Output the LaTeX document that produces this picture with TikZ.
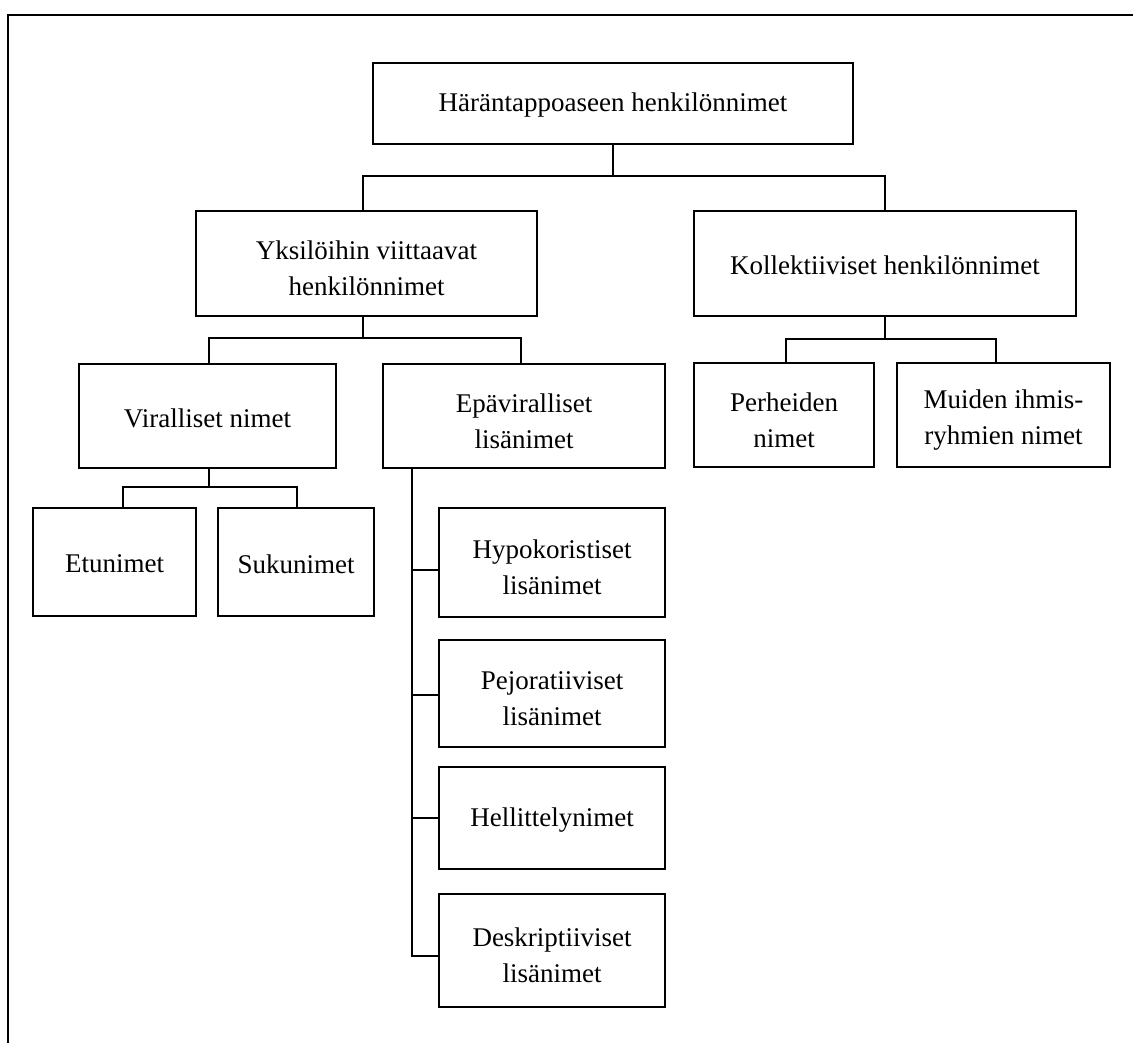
\documentclass[tikz,border=0pt]{standalone}
\usepackage{fontspec}
\setmainfont{Liberation Serif}
\begin{document}
\begin{tikzpicture}[x=1pt,y=-1pt,
  bx/.style={draw,line width=1.5pt,inner sep=0pt},
  one/.style={label={[align=center,inner sep=0pt,yshift=-2pt,font=\fontsize{27}{36}\selectfont]center:#1}},
  two/.style={label={[align=center,inner sep=0pt,yshift=-5pt,font=\fontsize{27}{36}\selectfont]center:#1}},
  ln/.style={line width=1.5pt}]
\useasboundingbox (0,0) rectangle (1133,1043);
\draw[line width=1.4pt] (8,1043) -- (8,15) -- (1133,15);
\node[bx,minimum width=480pt,minimum height=81pt,one={Häräntappoaseen henkilönnimet}] (root) at (613,103.5) {};
\node[bx,minimum width=341pt,minimum height=105pt,two={Yksilöihin viittaavat\\henkilönnimet}] (yks) at (366.5,263.5) {};
\node[bx,minimum width=382pt,minimum height=105pt,one={Kollektiiviset henkilönnimet}] (koll) at (885,263.5) {};
\node[bx,minimum width=257pt,minimum height=104pt,one={Viralliset nimet}] (vir) at (207.5,416) {};
\node[bx,minimum width=282pt,minimum height=104pt,two={Epäviralliset\\lisänimet}] (epa) at (524,416) {};
\node[bx,minimum width=180pt,minimum height=104pt,two={Perheiden\\nimet}] (per) at (784,415) {};
\node[bx,minimum width=213pt,minimum height=104pt,two={Muiden ihmis-\\ryhmien nimet}] (mui) at (1003.5,415) {};
\node[bx,minimum width=163pt,minimum height=108pt,one={Etunimet}] (etu) at (114.5,562) {};
\node[bx,minimum width=156pt,minimum height=108pt,one={Sukunimet}] (suk) at (296,562) {};
\node[bx,minimum width=226pt,minimum height=109pt,two={Hypokoristiset\\lisänimet}] (hyp) at (552,562.5) {};
\node[bx,minimum width=226pt,minimum height=107pt,two={Pejoratiiviset\\lisänimet}] (pej) at (552,693.5) {};
\node[bx,minimum width=226pt,minimum height=102pt,one={Hellittelynimet}] (hel) at (552,818) {};
\node[bx,minimum width=226pt,minimum height=113pt,two={Deskriptiiviset\\lisänimet}] (des) at (552,950.5) {};
% root branches
\coordinate (rb) at (613,176);
\draw[ln] (root.south) -- (rb);
\draw[ln] ([xshift=-3.5pt]yks.north) |- (rb) -| (koll.north);
% yks branches
\coordinate (yb) at (363,338);
\draw[ln] ([xshift=-3.5pt]yks.south) -- (yb);
\draw[ln] ([xshift=1.5pt]vir.north) |- (yb) -| ([xshift=-3pt]epa.north);
% koll branches
\coordinate (kb) at (885,339);
\draw[ln] (koll.south) -- (kb);
\draw[ln] ([xshift=2pt]per.north) |- (kb) -| ([xshift=-7.5pt]mui.north);
% vir branches
\coordinate (vb) at (209,487);
\draw[ln] ([xshift=1.5pt]vir.south) -- (vb);
\draw[ln] ([xshift=8.5pt]etu.north) |- (vb) -| ([xshift=1pt]suk.north);
% epa spine
\coordinate (e0) at (412,468);
\draw[ln] (e0) |- ([yshift=-5.5pt]des.west);
\draw[ln] ([yshift=-7.5pt]hyp.west) -- ([yshift=-7.5pt]hyp.west -| e0);
\draw[ln] ([yshift=-1.5pt]pej.west) -- ([yshift=-1.5pt]pej.west -| e0);
\draw[ln] (hel.west) -- (hel.west -| e0);
\end{tikzpicture}
\end{document}
